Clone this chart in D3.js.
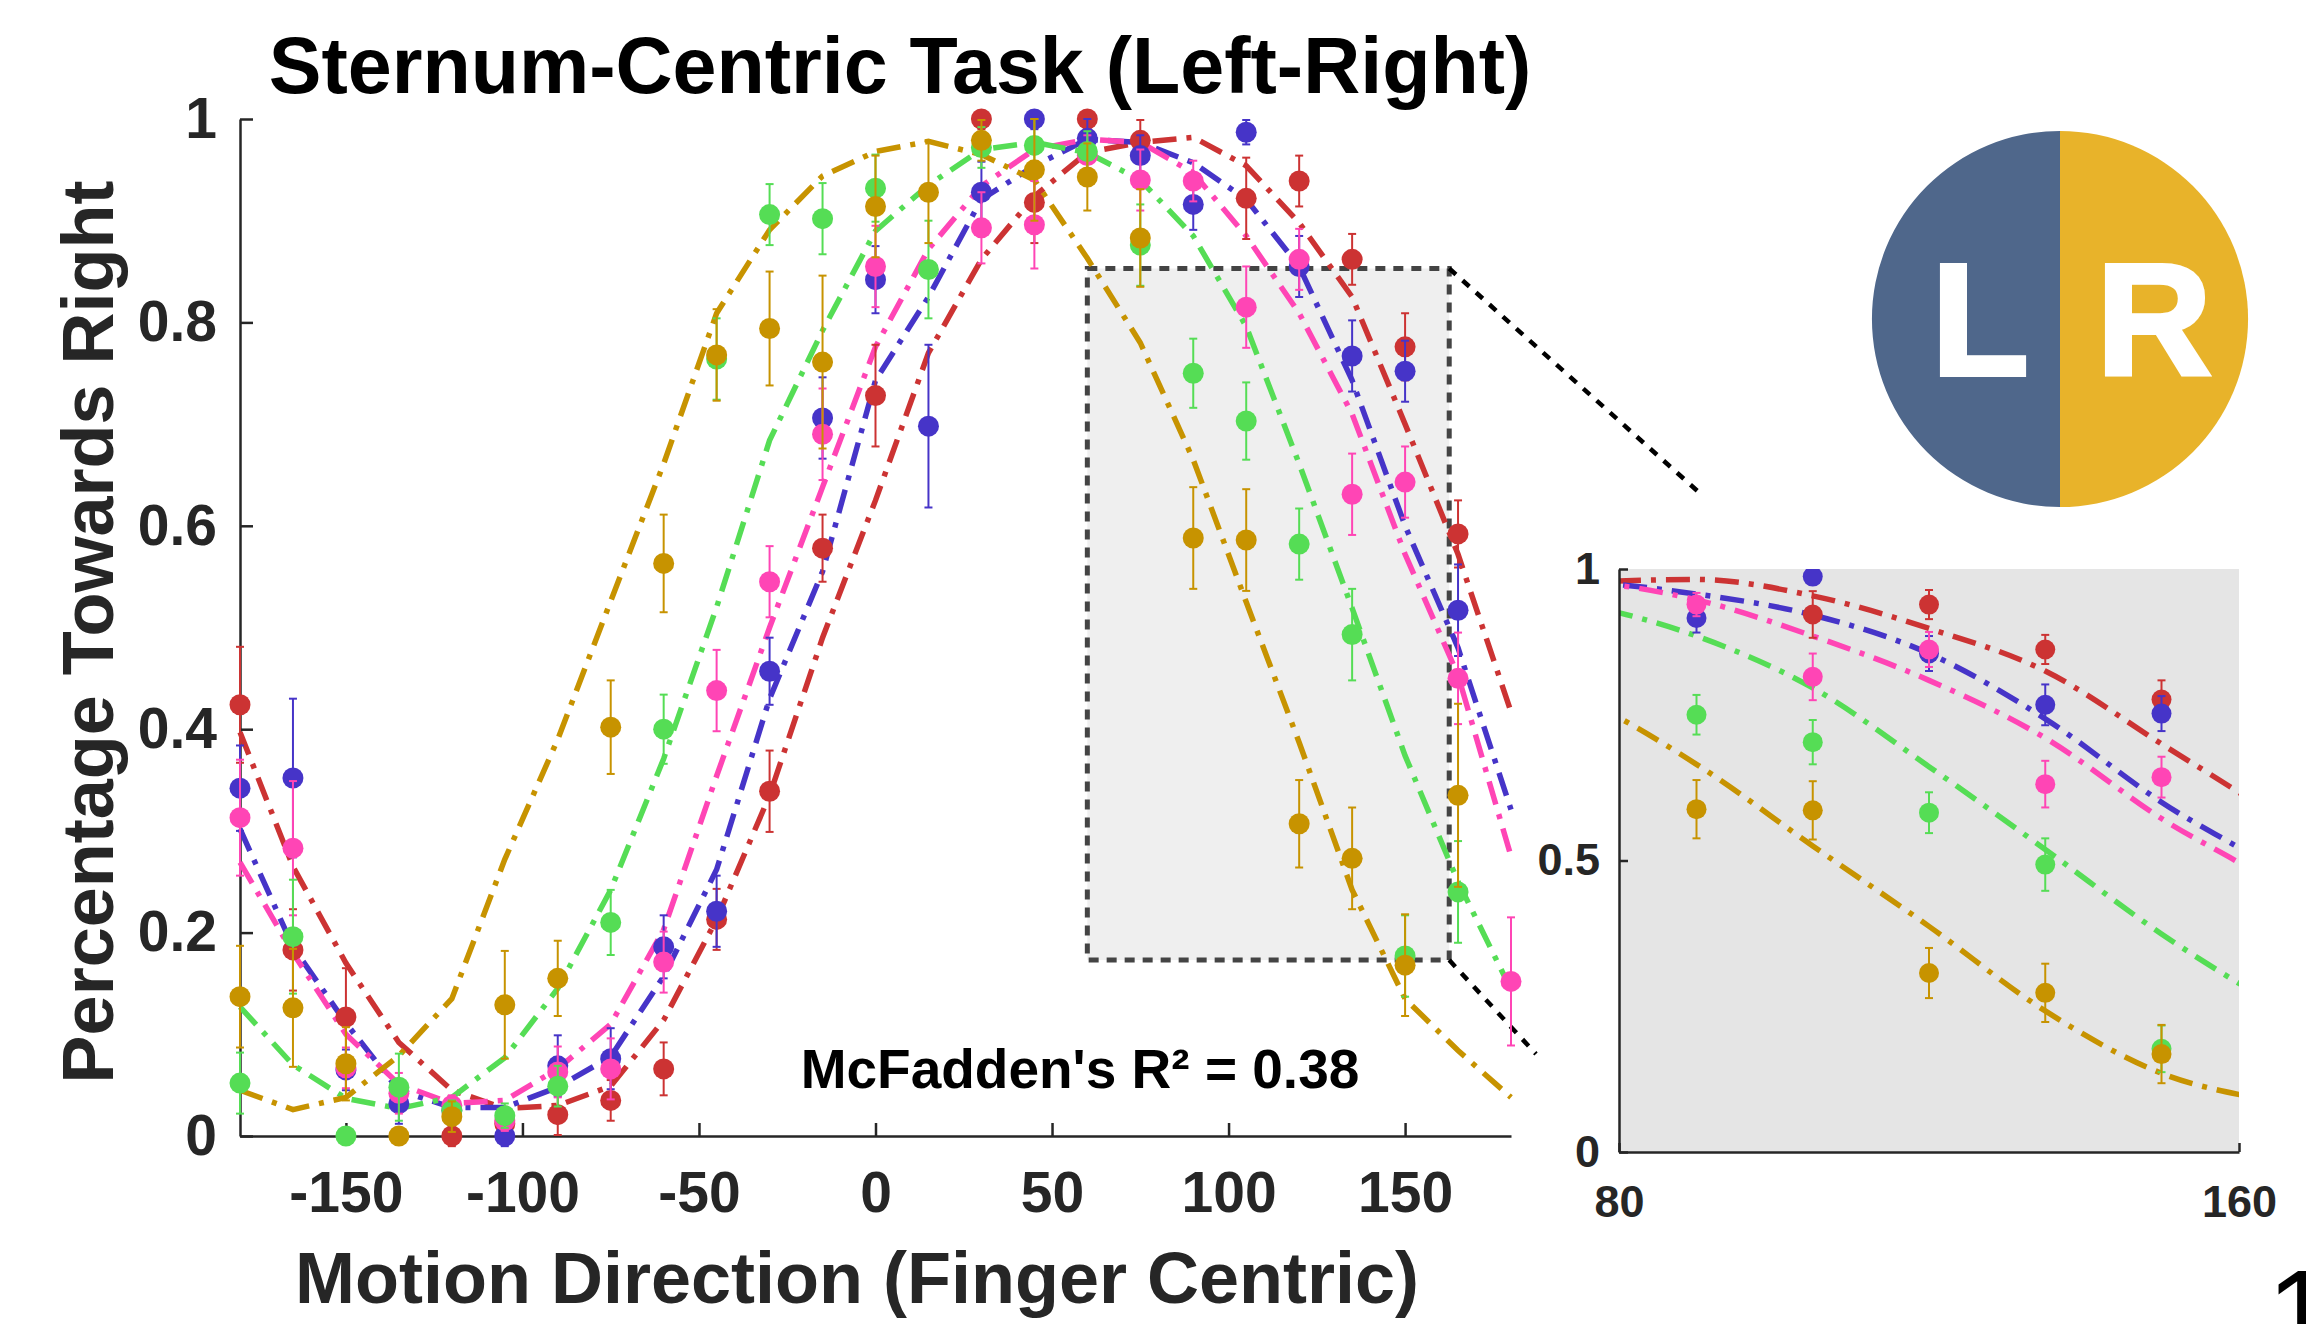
<!DOCTYPE html>
<html>
<head>
<meta charset="utf-8">
<script src="https://cdn.jsdelivr.net/npm/d3@7"></script>
<style>
  body { margin: 0; background: #fff; }
  text { font-family: "Liberation Sans", Arial, Helvetica, sans-serif; }
</style>
</head>
<body>
<div id="chart"></div>
<script>
// motion directions (deg), one point per direction
const angles = [-180, -165, -150, -135, -120, -105, -90, -75, -60, -45, -30, -15,
  0, 15, 30, 45, 60, 75, 90, 105, 120, 135, 150, 165, 180];

// observed proportions (null = no point drawn)
const redMean = [0.424, 0.183, 0.117, null, 0.0, 0.012, 0.021, 0.035, 0.066, 0.213, 0.339, 0.578,
  0.728, null, 1.0, 0.918, 1.0, 0.979, null, 0.922, 0.939, 0.862, 0.776, 0.592, null];
const redErr = [0.057, 0.04, 0.048, null, 0.01, 0.015, 0.02, 0.02, 0.026, 0.03, 0.04, 0.033,
  0.05, null, 0.01, 0.04, 0.01, 0.02, null, 0.04, 0.025, 0.025, 0.033, 0.033, null];
const blueMean = [0.342, 0.352, 0.065, 0.032, 0.025, 0.0, 0.069, 0.076, 0.186, 0.221, 0.457, 0.706,
  0.842, 0.698, 0.928, 1.0, 0.981, 0.964, 0.916, 0.987, 0.855, 0.767, 0.752, 0.517, null];
const blueErr = [0.042, 0.078, 0.02, 0.02, 0.01, 0.01, 0.03, 0.03, 0.031, 0.035, 0.033, 0.04,
  0.033, 0.08, 0.03, 0.01, 0.02, 0.02, 0.025, 0.012, 0.03, 0.035, 0.03, 0.045, null];
const pinkMean = [0.313, 0.283, 0.067, 0.042, 0.03, 0.015, 0.063, 0.066, 0.171, 0.438, 0.545, 0.69,
  0.855, null, 0.893, 0.896, 0.964, 0.94, 0.939, 0.815, 0.862, 0.631, 0.643, 0.45, 0.152];
const pinkErr = [0.057, 0.066, 0.02, 0.02, 0.01, 0.01, 0.025, 0.03, 0.03, 0.04, 0.035, 0.045,
  0.04, null, 0.035, 0.043, 0.02, 0.03, 0.02, 0.04, 0.03, 0.04, 0.035, 0.045, 0.063];
const greenMean = [0.052, 0.196, 0.0, 0.048, 0.025, 0.02, 0.049, 0.21, 0.4, 0.764, 0.906, 0.902,
  0.932, 0.852, 0.972, 0.974, 0.968, 0.876, 0.75, 0.703, 0.582, 0.493, 0.177, 0.24, null];
const greenErr = [0.03, 0.056, 0.0, 0.033, 0.01, 0.012, 0.02, 0.032, 0.034, 0.04, 0.03, 0.035,
  0.033, 0.048, 0.02, 0.03, 0.02, 0.04, 0.034, 0.038, 0.035, 0.045, 0.04, 0.05, null];
const goldMean = [0.137, 0.126, 0.071, 0.0, 0.019, 0.129, 0.155, 0.402, 0.563, 0.768, 0.794, 0.761,
  0.914, 0.928, 0.979, 0.95, 0.943, 0.883, 0.588, 0.586, 0.307, 0.273, 0.168, 0.335, null];
const goldErr = [0.05, 0.058, 0.036, 0.0, 0.015, 0.053, 0.037, 0.046, 0.048, 0.045, 0.056, 0.085,
  0.05, 0.05, 0.02, 0.05, 0.033, 0.048, 0.05, 0.05, 0.043, 0.05, 0.05, 0.09, null];

// fitted curves, read at the same directions
const redFit = [0.397, 0.265, 0.17, 0.092, 0.045, 0.027, 0.03, 0.049, 0.114, 0.213, 0.335, 0.49,
  0.625, 0.77, 0.862, 0.924, 0.967, 0.977, 0.982, 0.954, 0.898, 0.825, 0.70, 0.572, 0.417];
const blueFit = [0.302, 0.186, 0.111, 0.045, 0.028, 0.028, 0.048, 0.078, 0.157, 0.262, 0.43, 0.555,
  0.743, 0.825, 0.921, 0.954, 0.98, 0.977, 0.957, 0.921, 0.855, 0.743, 0.6, 0.48, 0.321];
const pinkFit = [0.269, 0.18, 0.10, 0.051, 0.032, 0.035, 0.066, 0.11, 0.203, 0.354, 0.5, 0.638,
  0.776, 0.872, 0.934, 0.97, 0.98, 0.977, 0.947, 0.885, 0.809, 0.71, 0.572, 0.453, 0.275];
const greenFit = [0.127, 0.07, 0.037, 0.027, 0.038, 0.077, 0.145, 0.242, 0.371, 0.52, 0.684, 0.792,
  0.89, 0.935, 0.97, 0.977, 0.967, 0.94, 0.885, 0.796, 0.661, 0.519, 0.374, 0.25, 0.144];
const goldFit = [0.045, 0.026, 0.038, 0.079, 0.135, 0.272, 0.39, 0.526, 0.661, 0.809, 0.891, 0.944,
  0.968, 0.978, 0.965, 0.94, 0.863, 0.78, 0.665, 0.525, 0.387, 0.242, 0.135, 0.084, 0.038];

const xTicks = [-150, -100, -50, 0, 50, 100, 150];
const yTicks = [0, 0.2, 0.4, 0.6, 0.8, 1];
const insetXTicks = [80, 160];
const insetYTicks = [0, 0.5, 1];

// drawing order: gold ends up on top
const series = [
  { color: "#cc3333", mean: redMean, err: redErr, fit: redFit },
  { color: "#4634c8", mean: blueMean, err: blueErr, fit: blueFit },
  { color: "#ff45b5", mean: pinkMean, err: pinkErr, fit: pinkFit },
  { color: "#55dd55", mean: greenMean, err: greenErr, fit: greenFit },
  { color: "#c79300", mean: goldMean, err: goldErr, fit: goldFit }
];

const W = 2306, H = 1324;
const ink = "#262626";

const svg = d3.select("#chart").append("svg")
  .attr("width", W).attr("height", H)
  .style("background", "#fff");

const x = d3.scaleLinear().domain([-180, 180]).range([240, 1511]);
const y = d3.scaleLinear().domain([0, 1]).range([1136, 119]);
const xi = d3.scaleLinear().domain([80, 160]).range([1619, 2239]);
const yi = d3.scaleLinear().domain([0, 1]).range([1152, 569]);

// zoom region in the main plot
const zoomBox = { x0: 60, x1: 162.5, y0: 0.173, y1: 0.853 };
svg.append("rect")
  .attr("x", x(zoomBox.x0)).attr("y", y(zoomBox.y1))
  .attr("width", x(zoomBox.x1) - x(zoomBox.x0))
  .attr("height", y(zoomBox.y0) - y(zoomBox.y1))
  .attr("fill", "#efefef")
  .attr("stroke", "#444").attr("stroke-width", 5)
  .attr("stroke-dasharray", "10,8");

// connectors to the inset
svg.append("line")
  .attr("x1", x(zoomBox.x1)).attr("y1", y(zoomBox.y1))
  .attr("x2", 1703).attr("y2", 496)
  .attr("stroke", "#000").attr("stroke-width", 4.5).attr("stroke-dasharray", "9,9");
svg.append("line")
  .attr("x1", x(zoomBox.x1)).attr("y1", y(zoomBox.y0))
  .attr("x2", 1536).attr("y2", 1054)
  .attr("stroke", "#000").attr("stroke-width", 4.5).attr("stroke-dasharray", "9,9");

function styleAxis(g, size) {
  g.select(".domain").attr("stroke", ink).attr("stroke-width", 2.5);
  g.selectAll(".tick line").attr("stroke", ink).attr("stroke-width", 2.5);
  g.selectAll(".tick text")
    .attr("fill", ink).attr("font-size", size).attr("font-weight", "bold")
    .style("font-family", '"Liberation Sans", Arial, sans-serif');
}

function drawData(g, xs, ys, curve, r) {
  series.forEach(s => {
    const pts = angles.map((a, i) => ({ a, v: s.fit[i] }));
    g.append("path")
      .datum(pts)
      .attr("fill", "none")
      .attr("stroke", s.color)
      .attr("stroke-width", 5.5)
      .attr("stroke-dasharray", "24,10,5,10")
      .attr("d", d3.line().x(d => xs(d.a)).y(d => ys(d.v)).curve(curve));
  });
  series.forEach(s => {
    const obs = angles.map((a, i) => ({ a, m: s.mean[i], e: s.err[i] }))
      .filter(d => d.m !== null && d.a >= xs.domain()[0] && d.a <= xs.domain()[1]);
    const eb = obs.filter(d => d.e);
    g.selectAll(null).data(eb).enter().append("line")
      .attr("x1", d => xs(d.a)).attr("x2", d => xs(d.a))
      .attr("y1", d => ys(d.m - d.e)).attr("y2", d => ys(Math.min(1, d.m + d.e)))
      .attr("stroke", s.color).attr("stroke-width", 2);
    [-1, 1].forEach(sign => {
      g.selectAll(null).data(eb).enter().append("line")
        .attr("x1", d => xs(d.a) - 4).attr("x2", d => xs(d.a) + 4)
        .attr("y1", d => ys(Math.min(1, d.m + sign * d.e)))
        .attr("y2", d => ys(Math.min(1, d.m + sign * d.e)))
        .attr("stroke", s.color).attr("stroke-width", 2);
    });
    g.selectAll(null).data(obs).enter().append("circle")
      .attr("cx", d => xs(d.a)).attr("cy", d => ys(d.m))
      .attr("r", r).attr("fill", s.color);
  });
}

// main axes (plain hyphen for negatives, as in the figure)
const gx = svg.append("g").attr("transform", `translate(0,${y(0)})`)
  .call(d3.axisBottom(x).tickValues(xTicks).tickSizeInner(-13).tickSizeOuter(0).tickPadding(36)
    .tickFormat(d => String(d)));
styleAxis(gx, 57);
const gy = svg.append("g").attr("transform", `translate(${x(-180)},0)`)
  .call(d3.axisLeft(y).tickValues(yTicks).tickSizeInner(-13).tickSizeOuter(0).tickPadding(23)
    .tickFormat(d => (d === 0 || d === 1) ? String(d) : d3.format(".1f")(d)));
styleAxis(gy, 57);

drawData(svg.append("g"), x, y, d3.curveLinear, 10.5);

// inset
svg.append("defs").append("clipPath").attr("id", "insetClip")
  .append("rect")
  .attr("x", xi(80)).attr("y", yi(1))
  .attr("width", xi(160) - xi(80)).attr("height", yi(0) - yi(1));
svg.append("rect")
  .attr("x", xi(80)).attr("y", yi(1))
  .attr("width", xi(160) - xi(80)).attr("height", yi(0) - yi(1))
  .attr("fill", "#e5e5e5");
drawData(svg.append("g").attr("clip-path", "url(#insetClip)"), xi, yi, d3.curveMonotoneX, 10);
const gxi = svg.append("g").attr("transform", `translate(0,${yi(0)})`)
  .call(d3.axisBottom(xi).tickValues(insetXTicks).tickSizeInner(-9).tickSizeOuter(0).tickPadding(33));
styleAxis(gxi, 45);
const gyi = svg.append("g").attr("transform", `translate(${xi(80)},0)`)
  .call(d3.axisLeft(yi).tickValues(insetYTicks).tickSizeInner(-9).tickSizeOuter(0).tickPadding(19)
    .tickFormat(d => String(d)));
styleAxis(gyi, 45);

// text
svg.append("text")
  .attr("x", 900).attr("y", 93).attr("text-anchor", "middle")
  .attr("font-size", 79).attr("font-weight", "bold").attr("fill", "#000")
  .text("Sternum-Centric Task (Left-Right)");
svg.append("text")
  .attr("x", 857).attr("y", 1303).attr("text-anchor", "middle")
  .attr("font-size", 72).attr("font-weight", "bold").attr("fill", ink)
  .text("Motion Direction (Finger Centric)");
svg.append("text")
  .attr("transform", "translate(113,632) rotate(-90)").attr("text-anchor", "middle")
  .attr("font-size", 72).attr("font-weight", "bold").attr("fill", ink)
  .text("Percentage Towards Right");
svg.append("text")
  .attr("x", 1080).attr("y", 1088).attr("text-anchor", "middle")
  .attr("font-size", 55).attr("font-weight", "bold").attr("fill", "#000")
  .text("McFadden's R² = 0.38");

// L | R badge
const logo = { cx: 2060, cy: 319, r: 188 };
const arc = d3.arc().innerRadius(0).outerRadius(logo.r);
const badge = svg.append("g").attr("transform", `translate(${logo.cx},${logo.cy})`);
badge.append("path").attr("d", arc({ startAngle: Math.PI, endAngle: 2 * Math.PI })).attr("fill", "#4f678b");
badge.append("path").attr("d", arc({ startAngle: 0, endAngle: Math.PI })).attr("fill", "#e8b32a");
badge.append("text").attr("x", -80).attr("y", 56).attr("text-anchor", "middle")
  .attr("font-size", 160).attr("font-weight", "bold").attr("fill", "#fff")
  .attr("stroke", "#fff").attr("stroke-width", 4).text("L");
badge.append("text").attr("x", 94).attr("y", 56).attr("text-anchor", "middle")
  .attr("font-size", 160).attr("font-weight", "bold").attr("fill", "#fff")
  .attr("stroke", "#fff").attr("stroke-width", 4).text("R");

// cut-off label in the corner, as in the figure
svg.append("text")
  .attr("x", 2267).attr("y", 1354)
  .attr("font-size", 120).attr("fill", "#000")
  .text("1");
</script>
</body>
</html>
